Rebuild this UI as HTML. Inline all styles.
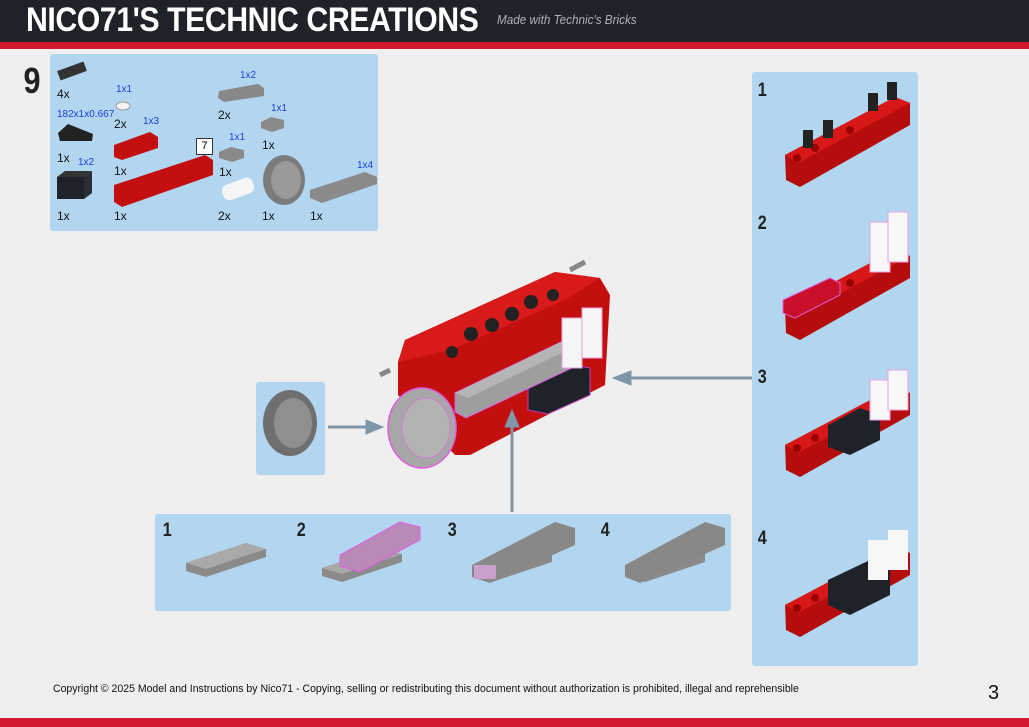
<!DOCTYPE html>
<html><head><meta charset="utf-8"><style>
html,body{margin:0;padding:0}
body{width:1029px;height:727px;background:#efefef;position:relative;overflow:hidden;font-family:"Liberation Sans",sans-serif}
.hdr{position:absolute;left:0;top:0;width:1029px;height:42px;background:#1f2329}
.red1{position:absolute;left:0;top:42px;width:1029px;height:7px;background:#d3182f}
.red2{position:absolute;left:0;top:718px;width:1029px;height:9px;background:#d3182f}
.title{position:absolute;left:26px;top:1px;color:#fff;font:bold 34px "Liberation Sans Narrow","Liberation Sans",sans-serif;letter-spacing:-0.5px;transform:scaleX(0.89);transform-origin:left}
.sub{position:absolute;left:497px;top:12px;color:#aeb3bb;font:italic 13px "Liberation Sans",sans-serif;transform:scaleX(0.9);transform-origin:left}
.panel{position:absolute;background:#b3d6f0;border-radius:3px}
.t{position:absolute;font-size:12px;color:#111}
.b{position:absolute;font-size:10px;color:#1a3fe0}
.n{position:absolute;font:bold 19px "Liberation Sans",sans-serif;color:#222;transform:scaleX(0.85)}
</style></head><body>
<div class="hdr"></div><div class="red1"></div><div class="red2"></div>
<div class="title">NICO71'S TECHNIC CREATIONS</div>
<div class="sub">Made with Technic's Bricks</div>
<div style="position:absolute;left:22px;top:60px;font:bold 36px 'Liberation Sans',sans-serif;color:#222;transform:scaleX(0.85)">9</div>
<div class="panel" style="left:50px;top:54px;width:328px;height:177px"></div>
<div class="panel" style="left:752px;top:72px;width:166px;height:594px"></div>
<div class="panel" style="left:155px;top:514px;width:576px;height:97px"></div>
<div class="panel" style="left:256px;top:382px;width:69px;height:93px"></div>

<div class="t" style="left:57px;top:87px">4x</div>
<div class="b" style="left:116px;top:84px">1x1</div>
<div class="t" style="left:114px;top:117px">2x</div>
<div class="b" style="left:57px;top:109px">182x1x0.667</div>
<div class="b" style="left:143px;top:116px">1x3</div>
<div class="t" style="left:57px;top:151px">1x</div>
<div class="b" style="left:78px;top:157px">1x2</div>
<div class="t" style="left:114px;top:164px">1x</div>
<div class="t" style="left:57px;top:209px">1x</div>
<div class="t" style="left:114px;top:209px">1x</div>
<div class="b" style="left:240px;top:70px">1x2</div>
<div class="t" style="left:218px;top:108px">2x</div>
<div class="b" style="left:271px;top:103px">1x1</div>
<div class="t" style="left:262px;top:138px">1x</div>
<div class="b" style="left:229px;top:132px">1x1</div>
<div class="t" style="left:219px;top:165px">1x</div>
<div class="t" style="left:218px;top:209px">2x</div>
<div class="t" style="left:262px;top:209px">1x</div>
<div class="b" style="left:357px;top:160px">1x4</div>
<div class="t" style="left:310px;top:209px">1x</div>
<div style="position:absolute;left:196px;top:138px;width:15px;height:15px;background:#fff;border:1px solid #333;font-size:11px;text-align:center;line-height:15px">7</div>

<div class="n" style="left:757px;top:80px">1</div>
<div class="n" style="left:757px;top:213px">2</div>
<div class="n" style="left:757px;top:367px">3</div>
<div class="n" style="left:757px;top:528px">4</div>
<div class="n" style="left:162px;top:520px">1</div>
<div class="n" style="left:296px;top:520px">2</div>
<div class="n" style="left:447px;top:520px">3</div>
<div class="n" style="left:600px;top:520px">4</div>

<svg style="position:absolute;left:0;top:0" width="1029" height="727">
<defs>
<g id="beam">
<polygon points="785,155 895,97 910,103 910,125 800,187 786,180" fill="#b50d0d"/>
<polygon points="785,155 895,97 910,103 798,163" fill="#d81818"/>
<circle cx="797" cy="158" r="4" fill="#900"/><circle cx="815" cy="148" r="4" fill="#900"/><circle cx="850" cy="130" r="4" fill="#900"/>
</g>
<g id="plate">
<polygon points="0,20 60,0 80,6 80,14 20,34 0,28" fill="#8a8a8a"/>
<polygon points="0,20 60,0 80,6 20,26" fill="#a9a9a9"/>
</g>
</defs>
<g fill="#333"><rect x="58" y="66" width="28" height="10" transform="rotate(-20 72 71)"/></g>
<ellipse cx="123" cy="106" rx="7" ry="4" fill="#f4f4f4" stroke="#999"/>
<polygon points="58,133 68,124 93,134 92,141 60,141" fill="#222"/>
<rect x="57" y="177" width="27" height="22" fill="#1f2329"/><polygon points="57,177 65,171 92,171 84,177" fill="#333"/><polygon points="84,177 92,171 92,193 84,199" fill="#2a2e33"/>
<polygon points="114,145 150,132 158,137 158,148 122,160 114,157" fill="#c30f0f"/>
<polygon points="114,185 205,155 213,160 213,175 122,207 114,202" fill="#c30f0f"/>
<polygon points="219,91 258,84 264,88 264,96 224,102 218,98" fill="#888"/>
<polygon points="261,122 271,117 284,120 284,128 272,132 261,128" fill="#8a8a8a"/>
<polygon points="219,152 231,147 244,150 244,158 232,162 219,158" fill="#8a8a8a"/>
<rect x="222" y="181" width="32" height="16" rx="6" fill="#f5f5f5" transform="rotate(-20 238 189)"/>
<ellipse cx="284" cy="180" rx="21" ry="25" fill="#7b7b7b"/><ellipse cx="286" cy="180" rx="15" ry="19" fill="#999"/>
<polygon points="310,190 365,172 377,177 377,184 322,203 310,198" fill="#8a8a8a"/>
<use href="#beam"/>
<rect x="803" y="130" width="10" height="18" fill="#222"/><rect x="823" y="120" width="10" height="18" fill="#222"/><rect x="868" y="93" width="10" height="18" fill="#222"/><rect x="887" y="82" width="10" height="18" fill="#222"/>
<use href="#beam" transform="translate(0,153)"/>
<rect x="870" y="222" width="20" height="50" fill="#f7f7f7" stroke="#e6a0e6"/><rect x="888" y="212" width="20" height="50" fill="#f7f7f7" stroke="#e6a0e6"/>
<polygon points="783,300 830,278 840,283 840,295 795,318 783,313" fill="#c90f2a" stroke="#e05ce0"/>
<use href="#beam" transform="translate(0,290)"/>
<polygon points="828,425 860,408 880,415 880,440 850,455 828,447" fill="#1f2329"/>
<rect x="870" y="380" width="20" height="40" fill="#f7f7f7" stroke="#e6a0e6"/><rect x="888" y="370" width="20" height="40" fill="#f7f7f7" stroke="#e6a0e6"/>
<use href="#beam" transform="translate(0,450)"/>
<polygon points="828,580 870,560 890,568 890,595 850,615 828,605" fill="#1f2329"/>
<rect x="868" y="540" width="20" height="40" fill="#f7f7f7"/><rect x="888" y="530" width="20" height="40" fill="#f7f7f7"/>
<use href="#plate" transform="translate(186,543)"/>
<use href="#plate" transform="translate(322,548)"/>
<polygon points="340,555 400,522 420,527 420,540 360,572 340,566" fill="#b98ab8" stroke="#e05ce0"/>
<use href="#plate" transform="translate(472,548)"/>
<polygon points="472,565 555,522 575,528 575,545 490,583 472,577" fill="#888"/>
<rect x="474" y="565" width="22" height="14" fill="#c9a0c9"/>
<use href="#plate" transform="translate(625,548)"/>
<polygon points="625,565 705,522 725,528 725,545 640,583 625,577" fill="#888"/>
<line x1="390" y1="370" x2="380" y2="375" stroke="#888" stroke-width="5"/>
<line x1="570" y1="270" x2="585" y2="262" stroke="#888" stroke-width="5"/>
<polygon points="398,362 405,340 555,272 600,278 610,295 605,385 470,455 455,455 398,395" fill="#c40f0f"/>
<polygon points="398,362 405,340 555,272 600,278 565,300 450,350" fill="#d91a1a"/>
<g fill="#222"><circle cx="452" cy="352" r="6"/><circle cx="471" cy="334" r="7"/><circle cx="492" cy="325" r="7"/><circle cx="512" cy="314" r="7"/><circle cx="531" cy="302" r="7"/><circle cx="553" cy="295" r="6"/></g>
<polygon points="528,385 570,364 590,368 590,395 548,414 528,410" fill="#1f2329" stroke="#c040c0"/>
<polygon points="455,393 565,340 578,345 578,365 466,418 455,412" fill="#9e9e9e" stroke="#e05ce0"/>
<polygon points="455,393 565,340 578,345 468,398" fill="#b5b5b5"/>
<rect x="562" y="318" width="20" height="50" fill="#f5f5f5" stroke="#e6a0e6"/><rect x="582" y="308" width="20" height="50" fill="#f5f5f5" stroke="#e6a0e6"/>
<ellipse cx="422" cy="428" rx="34" ry="40" fill="#a7a7a7" stroke="#e05ce0" stroke-width="1.5"/>
<ellipse cx="426" cy="428" rx="24" ry="30" fill="#b3b3b3" stroke="#d47ad4"/>
<ellipse cx="290" cy="423" rx="27" ry="33" fill="#6f6f6f"/><ellipse cx="293" cy="423" rx="19" ry="25" fill="#8f8f8f"/>
<g fill="#7e96a8" stroke="#7e96a8">
<line x1="328" y1="427" x2="368" y2="427" stroke-width="3"/><polygon points="383,427 366,420 366,434"/>
<line x1="512" y1="512" x2="512" y2="425" stroke-width="3"/><polygon points="512,410 505,427 519,427"/>
<line x1="752" y1="378" x2="630" y2="378" stroke-width="3"/><polygon points="613,378 631,371 631,385"/>
</g>
</svg>
<div style="position:absolute;left:53px;top:683px;font-size:11px;color:#111;transform:scaleX(0.955);transform-origin:left;white-space:nowrap">Copyright © 2025 Model and Instructions by Nico71 - Copying, selling or redistributing this document without authorization is prohibited, illegal and reprehensible</div>
<div style="position:absolute;left:988px;top:682px;font-size:20px;color:#111">3</div>
</body></html>
